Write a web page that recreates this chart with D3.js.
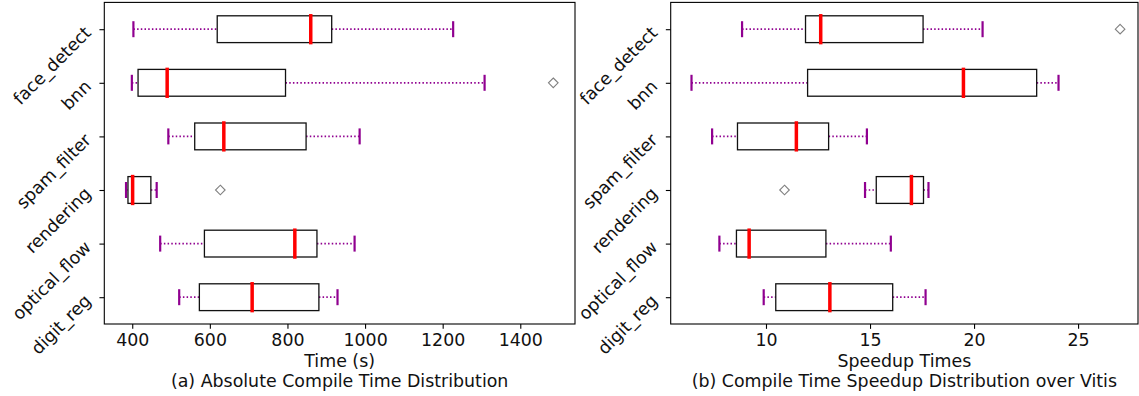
<!DOCTYPE html>
<html>
<head>
<meta charset="utf-8">
<script src="https://cdn.jsdelivr.net/npm/d3@7"></script>
<style>
  html, body { margin: 0; padding: 0; background: #fff; }
  svg { display: block; font-family: "DejaVu Sans", sans-serif; }
</style>
</head>
<body>
<svg id="chart" width="1139" height="396"></svg>
<script>
// Benchmarks, listed top to bottom
const categories = ["face_detect", "bnn", "spam_filter", "rendering", "optical_flow", "digit_reg"];

// (a) absolute compile time, seconds
const timeWhiskerLow  = [403, 399, 493, 384, 472, 521];
const timeQ1          = [619, 415, 561, 389, 586, 573];
const timeMedian      = [860, 490, 636, 401, 819, 709];
const timeQ3          = [914, 795, 848, 448, 876, 881];
const timeWhiskerHigh = [1227, 1308, 986, 463, 973, 929];
const timeOutliers    = [[], [1485], [], [627], [], []];
const timeTicks       = [400, 600, 800, 1000, 1200, 1400];

// (b) speedup over Vitis
const speedWhiskerLow  = [8.85, 6.42, 7.41, 14.76, 7.76, 9.89];
const speedQ1          = [11.9, 12.0, 8.63, 15.30, 8.58, 10.47];
const speedMedian      = [12.63, 19.49, 11.46, 16.99, 9.19, 13.07];
const speedQ3          = [17.55, 23.01, 13.01, 17.57, 12.88, 16.09];
const speedWhiskerHigh = [20.41, 24.06, 14.85, 17.81, 16.0, 17.67];
const speedOutliers    = [[27.02], [], [], [10.89], [], []];
const speedTicks       = [10, 15, 20, 25];

const svg = d3.select("#chart");
const FONT = 17.4;
const TICK = 4.86;
const plotTop = 2.4, plotBottom = 324;

function panel(opts) {
  const { left, right, domain, ticks, low, q1, med, q3, high, outliers, xlabel, title } = opts;
  const x = d3.scaleLinear().domain(domain).range([left, right]);
  const y = d3.scalePoint().domain(categories).range([plotTop, plotBottom]).padding(0.5);
  const step = y.step();
  const boxH = step * 0.5;
  const capH = 16;

  const g = svg.append("g");

  const rows = categories.map((c, i) => ({
    c, low: low[i], q1: q1[i], med: med[i], q3: q3[i], high: high[i], out: outliers[i]
  }));

  const row = g.selectAll("g.row").data(rows).join("g").attr("class", "row");

  // whiskers (dotted)
  row.append("line")
    .attr("x1", d => x(d.low)).attr("x2", d => x(d.q1))
    .attr("y1", d => y(d.c)).attr("y2", d => y(d.c))
    .attr("stroke", "#900090").attr("stroke-width", 1.7)
    .attr("stroke-dasharray", "1.5,2.2");
  row.append("line")
    .attr("x1", d => x(d.q3)).attr("x2", d => x(d.high))
    .attr("y1", d => y(d.c)).attr("y2", d => y(d.c))
    .attr("stroke", "#900090").attr("stroke-width", 1.7)
    .attr("stroke-dasharray", "1.5,2.2");

  // caps
  row.selectAll("line.cap").data(d => [[d.low, d.c], [d.high, d.c]]).join("line")
    .attr("class", "cap")
    .attr("x1", d => x(d[0])).attr("x2", d => x(d[0]))
    .attr("y1", d => y(d[1]) - capH / 2).attr("y2", d => y(d[1]) + capH / 2)
    .attr("stroke", "#900090").attr("stroke-width", 2.2);

  // boxes
  row.append("rect")
    .attr("x", d => x(d.q1)).attr("width", d => x(d.q3) - x(d.q1))
    .attr("y", d => y(d.c) - boxH / 2).attr("height", boxH)
    .attr("fill", "none").attr("stroke", "#111").attr("stroke-width", 1.3);

  // medians
  row.append("line")
    .attr("x1", d => x(d.med)).attr("x2", d => x(d.med))
    .attr("y1", d => y(d.c) - boxH / 2).attr("y2", d => y(d.c) + boxH / 2)
    .attr("stroke", "#ff0000").attr("stroke-width", 3.5).attr("stroke-linecap", "square");

  // outliers (open diamonds)
  const r = 4.8;
  row.selectAll("path.flier").data(d => d.out.map(v => [v, d.c])).join("path")
    .attr("class", "flier")
    .attr("d", d => {
      const cx = x(d[0]), cy = y(d[1]);
      return `M${cx},${cy - r}L${cx + r},${cy}L${cx},${cy + r}L${cx - r},${cy}Z`;
    })
    .attr("fill", "none").attr("stroke", "#808080").attr("stroke-width", 1.1);

  // frame
  g.append("rect")
    .attr("x", left).attr("y", plotTop).attr("width", right - left).attr("height", plotBottom - plotTop)
    .attr("fill", "none").attr("stroke", "#000").attr("stroke-width", 1.1);

  // x axis
  const xAxis = d3.axisBottom(x).tickValues(ticks).tickSize(TICK).tickPadding(4.86)
    .tickFormat(d3.format("d"));
  const xg = g.append("g").attr("transform", `translate(0,${plotBottom})`).call(xAxis);
  xg.select(".domain").remove();
  xg.selectAll(".tick line").attr("stroke", "#000").attr("stroke-width", 1.1);
  xg.selectAll(".tick text").attr("font-size", FONT).attr("font-family", "DejaVu Sans")
    .attr("fill", "#111").attr("dy", null).attr("y", 22.3);

  // y axis with labels rotated 45 degrees
  const yAxis = d3.axisLeft(y).tickSize(TICK).tickFormat("");
  const yg = g.append("g").attr("transform", `translate(${left},0)`).call(yAxis);
  yg.select(".domain").remove();
  yg.selectAll(".tick line").attr("stroke", "#000").attr("stroke-width", 1.1);
  yg.selectAll(".tick").append("text")
    .attr("text-anchor", "end")
    .attr("dominant-baseline", "central")
    .attr("transform", `translate(${-TICK - 11.5},0) rotate(-45)`)
    .attr("font-size", FONT).attr("font-family", "DejaVu Sans").attr("fill", "#111")
    .text(d => d);

  const cx = (left + right) / 2;
  g.append("text").attr("x", cx).attr("y", 367).attr("text-anchor", "middle")
    .attr("font-size", FONT).attr("fill", "#111").text(xlabel);
  g.append("text").attr("x", cx).attr("y", 386.5).attr("text-anchor", "middle")
    .attr("font-size", FONT).attr("fill", "#111").text(title);
}

panel({
  left: 104.3, right: 575, domain: [328, 1541], ticks: timeTicks,
  low: timeWhiskerLow, q1: timeQ1, med: timeMedian, q3: timeQ3, high: timeWhiskerHigh,
  outliers: timeOutliers, xlabel: "Time (s)", title: "(a) Absolute Compile Time Distribution"
});

panel({
  left: 670.7, right: 1138, domain: [5.42, 27.88], ticks: speedTicks,
  low: speedWhiskerLow, q1: speedQ1, med: speedMedian, q3: speedQ3, high: speedWhiskerHigh,
  outliers: speedOutliers, xlabel: "Speedup Times", title: "(b) Compile Time Speedup Distribution over Vitis"
});
</script>
</body>
</html>
